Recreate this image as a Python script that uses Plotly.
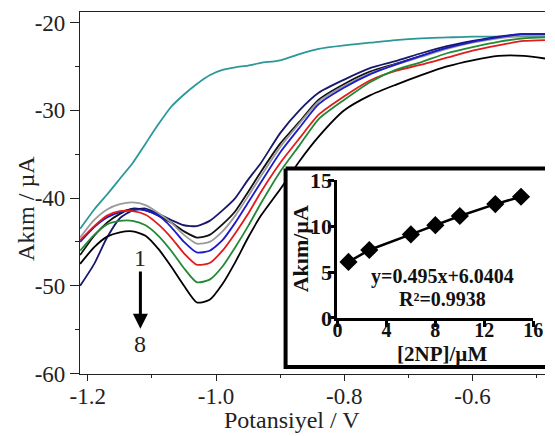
import plotly.graph_objects as go

# ---------------- data ----------------
potential = [-1.212, -1.19, -1.17, -1.15, -1.13, -1.11, -1.09, -1.07, -1.05, -1.03,
             -1.01, -0.99, -0.97, -0.95, -0.93, -0.90, -0.87, -0.84, -0.80, -0.76,
             -0.72, -0.68, -0.64, -0.60, -0.56, -0.52, -0.487]

blank = [-43.5, -41.3, -39.6, -37.8, -36.0, -33.8, -31.6, -29.6, -28.2, -27.0,
         -26.0, -25.4, -25.1, -24.9, -24.6, -24.3, -23.6, -23.0, -22.6, -22.3,
         -22.0, -21.8, -21.7, -21.6, -21.6, -21.6, -21.6]
c1 = [-50.0, -47.5, -44.5, -42.3, -41.4, -41.2, -41.8, -42.5, -43.1, -43.2,
      -42.6, -41.4, -40.0, -37.9, -36.0, -32.6, -30.0, -28.0, -26.5, -25.2,
      -24.4, -23.5, -22.7, -22.1, -21.6, -21.3, -21.3]
c2 = [-46.5, -44.3, -42.8, -41.8, -41.2, -41.4, -42.0, -42.8, -43.8, -44.5,
      -44.2, -43.0, -41.5, -39.3, -37.0, -33.8, -31.3, -28.8, -27.0, -25.6,
      -24.7, -23.8, -22.9, -22.2, -21.7, -21.4, -21.4]
c3 = [-44.5, -42.5, -41.3, -40.7, -40.5, -40.8, -41.7, -42.8, -44.2, -45.2,
      -45.0, -43.8, -42.0, -39.8, -37.5, -34.2, -31.5, -29.0, -27.2, -25.8,
      -24.8, -23.9, -23.0, -22.3, -21.8, -21.5, -21.5]
c4 = [-45.0, -43.3, -42.2, -41.6, -41.3, -41.4, -42.0, -43.3, -45.0, -46.2,
      -46.0, -44.8, -42.8, -40.5, -38.2, -34.8, -32.0, -29.3, -27.4, -25.9,
      -24.8, -23.8, -22.9, -22.2, -21.7, -21.3, -21.3]
c5 = [-44.8, -43.2, -42.0, -41.5, -41.5, -41.9, -43.0, -44.5, -46.3, -47.6,
      -47.4, -46.0, -44.0, -41.8, -39.3, -36.0, -33.2, -30.5, -28.4, -26.6,
      -25.5, -24.8, -24.0, -23.2, -22.6, -22.1, -22.0]
c6 = [-46.0, -44.2, -43.0, -42.6, -42.6, -43.1, -44.3, -46.0, -48.0, -49.6,
      -49.3, -47.8, -45.6, -43.2, -40.6, -37.0, -34.0, -31.0, -28.8, -26.8,
      -25.4, -24.5, -23.5, -22.8, -22.2, -21.8, -21.7]
c7 = [-47.5, -45.6, -44.4, -43.9, -43.8, -44.3, -45.8, -47.8, -50.0, -51.9,
      -51.6, -49.8, -47.3, -44.5, -42.0, -39.0, -35.8, -33.0, -30.0, -28.3,
      -27.1, -26.0, -25.0, -24.3, -23.8, -23.8, -24.1]

curves = [blank, c1, c2, c3, c4, c5, c6, c7]
curve_colors = ["#2a9898", "#18186e", "#111111", "#9a9a9a", "#1c1cc8",
                "#e01c1c", "#228a34", "#000000"]

conc = [0.9, 2.6, 6.0, 8.0, 10.0, 12.9, 15.0]
peak_current = [6.1, 7.4, 9.1, 10.1, 11.1, 12.4, 13.2]

x_ticks = [-1.2, -1.0, -0.8, -0.6]
x_ticktext = ["-1.2", "-1.0", "-0.8", "-0.6"]
y_ticks = [-60, -50, -40, -30, -20]
y_ticktext = ["-60", "-50", "-40", "-30", "-20"]
ix_ticks = [0, 4, 8, 12, 16]
iy_ticks = [0, 5, 10, 15]

# ---------------- figure ----------------
W, H = 555, 436
ML, MR, MT, MB = 80, 0, 6, 62
PW, PH = W - ML - MR, H - MT - MB


def px_x(p):
    return (p - ML) / PW


def px_y(p):
    return (H - MB - p) / PH


SERIF = "Liberation Serif, Times New Roman, serif"
fig = go.Figure()

for ys, col in zip(curves, curve_colors):
    fig.add_trace(go.Scatter(x=potential, y=ys, mode="lines",
                             line=dict(color=col, width=1.8, shape="spline", smoothing=0.6),
                             xaxis="x", yaxis="y", hoverinfo="skip"))

# white box for the inset (decoration, pixel-based axes)
fig.add_trace(go.Scatter(x=[290, 600, 600, 290, 290], y=[165, 165, 367, 367, 165],
                         mode="lines", fill="toself", fillcolor="white",
                         line=dict(color="black", width=4),
                         xaxis="x2", yaxis="y2", hoverinfo="skip"))

# inset calibration
fig.add_trace(go.Scatter(x=conc, y=peak_current, mode="lines+markers",
                         line=dict(color="black", width=2.5),
                         marker=dict(symbol="diamond", size=14, color="black"),
                         xaxis="x3", yaxis="y3", cliponaxis=False, hoverinfo="skip"))

tick_font = dict(family=SERIF, size=23, color="#222")
bold_tick = dict(family=SERIF, size=22, color="#111", weight="bold")
bold_xtick = dict(family=SERIF, size=20, color="#111", weight="bold")

fig.update_layout(
    width=W, height=H,
    margin=dict(l=ML, r=MR, t=MT, b=MB),
    paper_bgcolor="white", plot_bgcolor="rgba(0,0,0,0)",
    showlegend=False, hovermode=False,
    xaxis=dict(domain=[0, 1], range=[-1.2122, -0.487], tickvals=x_ticks, ticktext=x_ticktext,
               ticks="outside", ticklen=6, tickwidth=1, tickcolor="#222",
               ticklabelstandoff=-5,
               minor=dict(tickvals=[-1.1, -0.9, -0.7, -0.5], ticks="outside", ticklen=3,
                          tickcolor="#222"),
               showline=True, linecolor="#222", linewidth=1.2, mirror=True,
               showgrid=False, zeroline=False, tickfont=tick_font),
    yaxis=dict(domain=[0, 1], range=[-60.05, -18.8], tickvals=y_ticks, ticktext=y_ticktext,
               ticks="outside", ticklen=9, tickwidth=1, tickcolor="#222",
               minor=dict(tickvals=[-55, -45, -35, -25], ticks="outside", ticklen=4,
                          tickcolor="#222"),
               showline=True, linecolor="#222", linewidth=1.2,
               showgrid=False, zeroline=False, tickfont=tick_font),
    xaxis2=dict(domain=[0, 1], range=[ML, W - MR], visible=False, anchor="y2",
                fixedrange=True),
    yaxis2=dict(domain=[0, 1], range=[H - MB, MT], visible=False, anchor="x2",
                fixedrange=True),
    xaxis3=dict(domain=[px_x(343), px_x(543)], range=[0, 16], anchor="y3",
                tickvals=ix_ticks, ticks="outside", ticklen=6, tickwidth=2.5,
                tickcolor="black", showline=True, linecolor="black", linewidth=3,
                ticklabelstandoff=-14,
                showgrid=False, zeroline=False, tickfont=bold_xtick),
    yaxis3=dict(domain=[px_y(317), px_y(177)], range=[0, 15], anchor="x3",
                tickvals=iy_ticks, ticks="outside", ticklen=6, tickwidth=2.5,
                tickcolor="black", showline=True, linecolor="black", linewidth=3,
                ticklabelstandoff=-8,
                showgrid=False, zeroline=False, tickfont=bold_tick),
)

C = dict(xanchor="center", yanchor="middle", showarrow=False)
anns = [
    dict(text="Akım / µA", xref="paper", yref="paper", x=px_x(25), y=px_y(206),
         textangle=-90, font=dict(family=SERIF, size=24, color="#222"), **C),
    dict(text="Potansiyel / V", xref="paper", yref="paper", x=px_x(297), y=px_y(421),
         font=dict(family=SERIF, size=24, color="#222"), **C),
    dict(text="1", xref="x", yref="y", x=-1.118, y=-46.8,
         font=dict(family=SERIF, size=24, color="#222"), **C),
    dict(text="8", xref="x", yref="y", x=-1.118, y=-56.6,
         font=dict(family=SERIF, size=24, color="#222"), **C),
    dict(text="", xref="x", yref="y", x=-1.118, y=-54.9, axref="x", ayref="y",
         ax=-1.118, ay=-48.2, showarrow=True, arrowhead=2, arrowsize=1,
         arrowwidth=3, arrowcolor="black"),
    dict(text="Akım/µA", xref="paper", yref="paper", x=px_x(305), y=px_y(247),
         textangle=-90, font=dict(family=SERIF, size=22, color="#111", weight="bold"), **C),
    dict(text="[2NP]/µM", xref="paper", yref="paper", x=px_x(450), y=px_y(354),
         font=dict(family=SERIF, size=21, color="#111", weight="bold"), **C),
    dict(text="y=0.495x+6.0404", xref="x3", yref="y3", x=8.6, y=4.55,
         font=dict(family=SERIF, size=20, color="#111", weight="bold"), **C),
    dict(text="R²=0.9938", xref="x3", yref="y3", x=8.6, y=2.1,
         font=dict(family=SERIF, size=20, color="#111", weight="bold"), **C),
]
fig.update_layout(annotations=anns)

fig.write_html("out.html", config={"displayModeBar": False},
               post_script="document.body.style.margin='0';"
                           "document.body.style.overflow='hidden';"
                           "document.documentElement.style.overflow='hidden';")
